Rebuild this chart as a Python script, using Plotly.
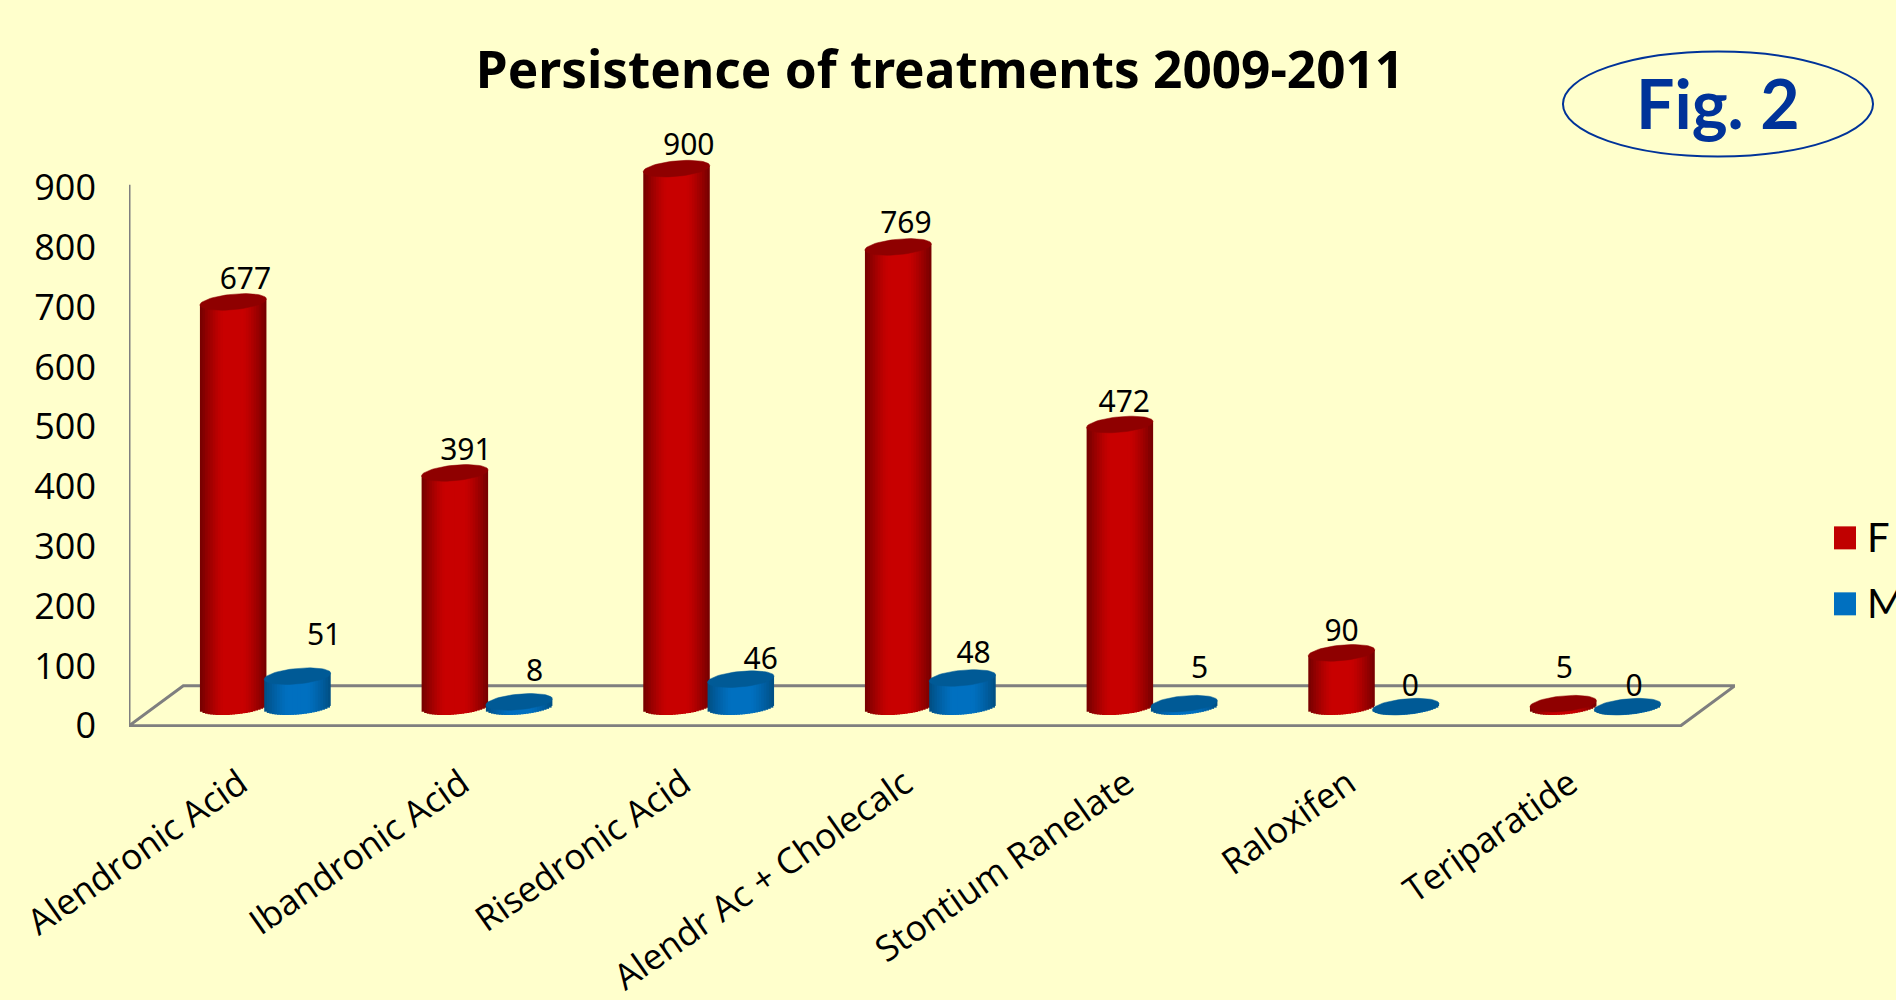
"""Persistence of treatments chart, fake-3D cylinders built from plotly bars."""

import numpy as np
import plotly.graph_objects as go

CATEGORIES = [
    "Alendronic Acid",
    "Ibandronic Acid",
    "Risedronic Acid",
    "Alendr Ac + Cholecalc",
    "Stontium Ranelate",
    "Raloxifen",
    "Teriparatide",
]
F_VALUES = [677, 391, 900, 769, 472, 90, 5]
M_VALUES = [51, 8, 46, 48, 5, 0, 0]
Y_TICKS = [0, 100, 200, 300, 400, 500, 600, 700, 800, 900]

# label nudges, in category units and value units
F_LABEL_DX = [0.055, 0.05, 0.055, 0.035, 0.02, 0.0, 0.005]
F_LABEL_DY = [34, 34, 36, 36, 34, 32, 56]
M_LABEL_DX = [0.12, 0.07, 0.09, 0.05, 0.07, 0.02, 0.03]
M_LABEL_DY = [64, 48, 30, 38, 56, 30, 30]

WIDTH, HEIGHT = 1896, 1000
BG = "#FFFFCC"
AXIS_GREY = "#7F7F7F"
NAVY = "#003399"
LABEL_FONT = "Open Sans"
DATA_FONT = "Noto Sans"

# plot area in page pixels
PLOT_LEFT, PLOT_RIGHT = 129.4, 1735
PLOT_TOP, PLOT_BOTTOM = 121.5, 726.7

# cylinder geometry
DEPTH = 32  # the bars stand this far up the floor, in value units
RADIUS = 0.15  # category units
FLAT = 13  # vertical half axis of the cap, value units
TILT = 5  # how far the right side of the cap rises
F_SHIFT = 0.0
M_SHIFT = 0.29
STRIPS = 26
FLOOR_DX = 0.245
FLOOR_DY = 67
AXIS_TOP = 905


def page_x(px):
    return (px - PLOT_LEFT) / (PLOT_RIGHT - PLOT_LEFT)


def page_y(px):
    return (PLOT_BOTTOM - px) / (PLOT_BOTTOM - PLOT_TOP)


def shade(u, edge, mid):
    """Colour across a cylinder, u runs from -1 to 1."""
    t = min(max(abs(u) - 0.3, 0) / 0.7, 1) ** 1.3
    rgb = [int(m + (e - m) * t) for e, m in zip(edge, mid)]
    return f"rgb({rgb[0]},{rgb[1]},{rgb[2]})"


def add_cylinders(fig, values, shift, edge, mid, cap):
    xs = np.arange(len(values)) + shift
    tops = np.array(values, dtype=float) + DEPTH
    edges = np.linspace(-1, 1, STRIPS + 1)
    strip_width = 2 * RADIUS / STRIPS

    # strips overlap the next one so no seam of background shows
    for u in (edges[:-1] + edges[1:]) / 2:
        lower = DEPTH - FLAT * np.sqrt(1 - u**2) + TILT * u
        upper = tops + TILT * u
        fig.add_trace(
            go.Bar(
                x=xs + u * RADIUS,
                y=upper - lower,
                base=lower,
                width=strip_width * (1.7 if u < edges[-2] else 1.0),
                offset=-strip_width / 2,
                marker={"color": shade(u, edge, mid), "line": {"width": 0}},
                hoverinfo="skip",
                showlegend=False,
            )
        )

    # caps
    t = np.linspace(0, 2 * np.pi, 60)
    for x, top in zip(xs, tops):
        fig.add_trace(
            go.Scatter(
                x=x + RADIUS * np.cos(t),
                y=top + FLAT * np.sin(t) + TILT * np.cos(t),
                mode="lines",
                fill="toself",
                fillcolor=cap,
                line={"color": cap, "width": 0.5},
                hoverinfo="skip",
                showlegend=False,
            )
        )


def add_labels(fig, values, shift, dx, dy):
    fig.add_trace(
        go.Scatter(
            x=np.arange(len(values)) + shift + np.array(dx),
            y=np.array(values) + DEPTH + np.array(dy),
            text=[str(v) for v in values],
            mode="text",
            textposition="middle center",
            textfont={"family": DATA_FONT, "size": 30, "color": "black"},
            hoverinfo="skip",
            showlegend=False,
        )
    )


fig = go.Figure()
add_cylinders(fig, F_VALUES, F_SHIFT, (115, 0, 0), (200, 0, 0), "#8F0000")
add_cylinders(fig, M_VALUES, M_SHIFT, (0, 78, 130), (0, 112, 192), "#005A96")
add_labels(fig, F_VALUES, F_SHIFT, F_LABEL_DX, F_LABEL_DY)
add_labels(fig, M_VALUES, M_SHIFT, M_LABEL_DX, M_LABEL_DY)

# floor of the 3D box and the upright
x_left = -0.47
x_right = x_left + len(CATEGORIES)
fig.add_shape(
    type="path",
    path=(
        f"M {x_left} 0 L {x_right} 0 L {x_right + FLOOR_DX} {FLOOR_DY} "
        f"L {x_left + FLOOR_DX} {FLOOR_DY} Z"
    ),
    line={"color": AXIS_GREY, "width": 3},
    layer="below",
)
fig.add_shape(
    type="line",
    x0=x_left,
    x1=x_left,
    y0=0,
    y1=AXIS_TOP,
    line={"color": AXIS_GREY, "width": 3},
    layer="below",
)

# the oval badge and the legend are placed in page pixels
fig.add_shape(
    type="circle",
    xref="paper",
    yref="paper",
    x0=page_x(1563),
    x1=page_x(1873),
    y0=page_y(156),
    y1=page_y(51),
    line={"color": NAVY, "width": 2},
)
fig.add_annotation(
    text="<b>Fig. 2</b>",
    xref="paper",
    yref="paper",
    x=page_x(1718),
    y=page_y(102),
    xanchor="center",
    yanchor="middle",
    showarrow=False,
    font={"family": "Lato", "size": 68, "color": NAVY},
)
for name, color, top in (("F", "#C00000", 526), ("M", "#0070C0", 592)):
    fig.add_shape(
        type="rect",
        xref="paper",
        yref="paper",
        x0=page_x(1834),
        x1=page_x(1856),
        y0=page_y(top + 23),
        y1=page_y(top),
        fillcolor=color,
        line={"width": 0},
    )
    fig.add_annotation(
        text=name,
        xref="paper",
        yref="paper",
        x=page_x(1865),
        y=page_y(top + 11),
        xanchor="left",
        yanchor="middle",
        showarrow=False,
        font={"family": "Lato", "size": 40, "color": "black"},
    )

fig.update_layout(
    width=WIDTH,
    height=HEIGHT,
    autosize=False,
    paper_bgcolor=BG,
    plot_bgcolor=BG,
    showlegend=False,
    barmode="overlay",
    margin={
        "l": PLOT_LEFT,
        "r": WIDTH - PLOT_RIGHT,
        "t": PLOT_TOP,
        "b": HEIGHT - PLOT_BOTTOM,
        "pad": 0,
    },
    title={
        "text": "<b>Persistence of treatments 2009-2011</b>",
        "x": 940 / WIDTH,
        "xanchor": "center",
        "y": 1 - 70 / HEIGHT,
        "yanchor": "middle",
        "font": {"family": "Noto Sans", "size": 51.3, "color": "black"},
    },
)
fig.update_xaxes(
    range=[x_left, x_right + FLOOR_DX],
    tickvals=[i + 0.03 for i in range(len(CATEGORIES))],
    ticktext=CATEGORIES,
    tickangle=-35,
    tickfont={"family": LABEL_FONT, "size": 35.5, "color": "black"},
    showgrid=False,
    zeroline=False,
    showline=False,
    ticks="",
    ticklabelstandoff=28,
    automargin=False,
)
fig.update_yaxes(
    range=[-2, 1010],
    tickvals=Y_TICKS,
    tickfont={"family": LABEL_FONT, "size": 36, "color": "black"},
    showgrid=False,
    zeroline=False,
    showline=False,
    ticks="",
    ticklabelstandoff=32,
    automargin=False,
)

fig.write_html(
    "out.html",
    config={"displayModeBar": False},
    post_script="document.body.style.margin = '0';",
)
